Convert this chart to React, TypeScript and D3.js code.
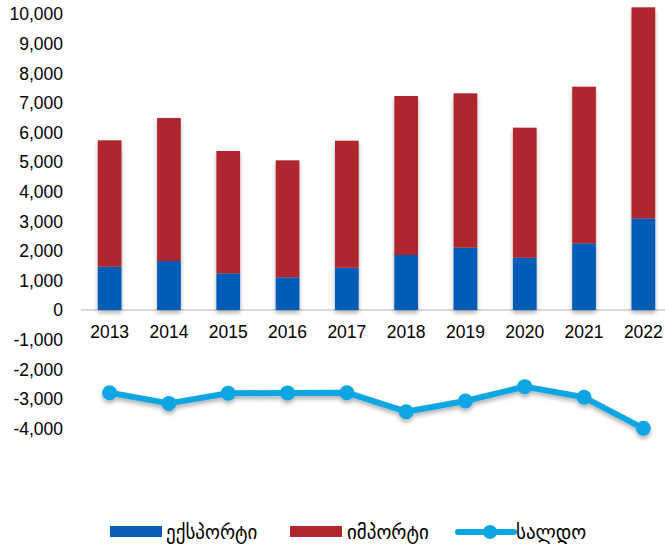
import React from 'react';
import {scaleBand, scaleLinear, line, format} from 'd3';

const years = ['2013', '2014', '2015', '2016', '2017', '2018', '2019', '2020', '2021', '2022'];
const exports = [1463, 1655, 1240, 1105, 1429, 1858, 2105, 1767, 2252, 3097];
const imports = [4270, 4831, 4132, 3952, 4291, 5372, 5215, 4393, 5293, 7129];
const saldo = [-2794, -3155, -2814, -2800, -2794, -3436, -3074, -2590, -2950, -3997];
const yTicks = [-4000, -3000, -2000, -1000, 0, 1000, 2000, 3000, 4000, 5000, 6000, 7000, 8000, 9000, 10000];
const legendLabels = ['ექსპორტი', 'იმპორტი', 'სალდო'];

const colors = {exp: '#065bb5', imp: '#b0282e', bal: '#0aa6e2'};
const font = '"Liberation Sans", Arial, sans-serif';

const App = () => {
    let width = 665, height = 546;
    let x = scaleBand().domain(years).range([80, 673]).paddingInner(0.6).paddingOuter(0.3);
    let y = scaleLinear().domain([0, 10000]).range([310, 14]);
    let f = format(',');
    // plain hyphen instead of d3's unicode minus
    let fmt = (t: number) => f(t).replace('\u2212', '-');
    let cx = (i: number) => x(years[i])! + x.bandwidth() / 2;
    let l = line<number>().x((d, i) => cx(i)).y(d => y(d));

    return (
        <svg width={width} height={height} style={{position: 'absolute', left: 0, top: 0, background: '#fff'}}>
            <defs>
                <filter id="shadow" x="-30%" y="-30%" width="160%" height="160%">
                    <feDropShadow dx="0" dy="3" stdDeviation="2" floodColor="#000" floodOpacity="0.3"/>
                </filter>
            </defs>

            {/* y axis labels */}
            <g fontFamily={font} fontSize="17.5" fill="#000" textAnchor="end">
                {yTicks.map(t => <text key={t} x={63} y={y(t)} dy="0.36em">{fmt(t)}</text>)}
            </g>

            <line x1={81} x2={665} y1={y(0)} y2={y(0)} stroke="#d9d9d9" strokeWidth="2"/>

            {/* stacked bars */}
            <g filter="url(#shadow)">
                {years.map((yr, i) => <g key={yr}>
                    <rect x={x(yr)} width={x.bandwidth()} y={y(exports[i])} height={y(0) - y(exports[i])} fill={colors.exp}/>
                    <rect x={x(yr)} width={x.bandwidth()} y={y(exports[i] + imports[i])} height={y(exports[i]) - y(exports[i] + imports[i])} fill={colors.imp}/>
                </g>)}
            </g>

            {/* x labels */}
            <g fontFamily={font} fontSize="17.5" fill="#000" textAnchor="middle">
                {years.map((yr, i) => <text key={yr} x={cx(i)} y={332} dy="0.36em">{yr}</text>)}
            </g>

            {/* balance line */}
            <g filter="url(#shadow)">
                <path d={l(saldo)!} fill="none" stroke={colors.bal} strokeWidth="6" strokeLinejoin="round"/>
                {saldo.map((v, i) => <circle key={i} cx={cx(i)} cy={y(v)} r="7.5" fill={colors.bal}/>)}
            </g>

            {/* legend */}
            <g fontFamily='"DejaVu Sans", sans-serif' fontSize="19" fill="#000">
                <rect x={110} y={526} width={52} height={11} fill={colors.exp}/>
                <text x={166} y={532} dy="0.36em">{legendLabels[0]}</text>
                <rect x={290} y={526} width={52} height={11} fill={colors.imp}/>
                <text x={347} y={532} dy="0.36em">{legendLabels[1]}</text>
                <line x1={458} x2={514} y1={532} y2={532} stroke={colors.bal} strokeWidth="6" strokeLinecap="round"/>
                <circle cx={490} cy={532} r="7" fill={colors.bal}/>
                <text x={516} y={532} dy="0.36em">{legendLabels[2]}</text>
            </g>
        </svg>
    );
};

export default App;
